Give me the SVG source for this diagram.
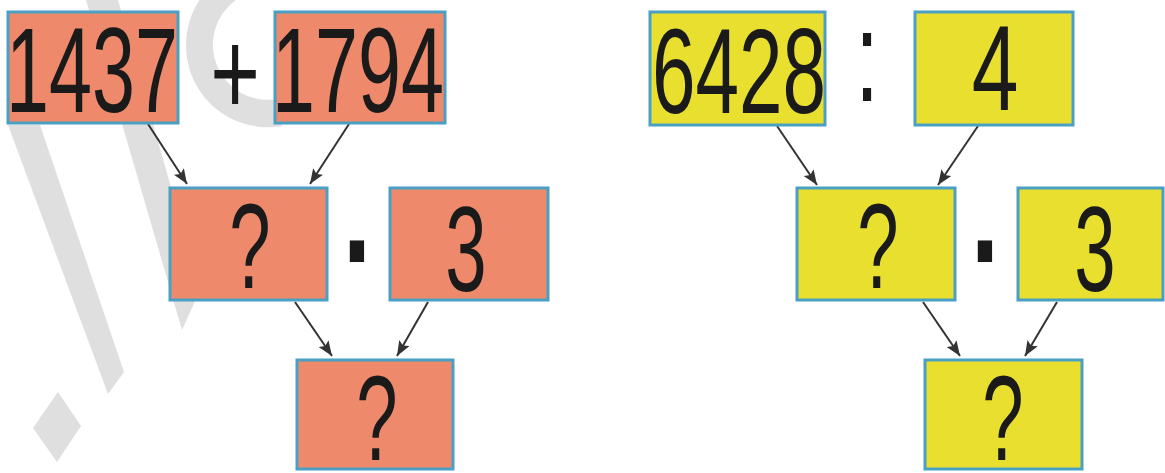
<svg xmlns="http://www.w3.org/2000/svg" width="1165" height="473" viewBox="0 0 1165 473">
  <style>
    .box { stroke: #4a9fc4; stroke-width: 3; }
    .salmon { fill: #ee8a6b; }
    .yellow { fill: #e9df2e; }
    .num { font-family: "Liberation Sans", Arial, sans-serif; font-size: 120px; fill: #1a1a1a; }
    .op { font-family: "Liberation Sans", Arial, sans-serif; fill: #1a1a1a; }
    .wm { fill: #dfdfdf; }
    .conn { stroke: #333333; stroke-width: 2; fill: none; marker-end: url(#arrow); }
  </style>
  <defs>
    <marker id="arrow" markerUnits="userSpaceOnUse" markerWidth="16" markerHeight="12" refX="15" refY="6" orient="auto">
      <path d="M0,0 L15,6 L0,12 L3,6 z" fill="#333333"/>
    </marker>
  </defs>
  <rect width="1165" height="473" fill="#ffffff"/>

  <g id="watermark">
    <polygon class="wm" points="8,125 40,125 124,372 108,394"/>
    <polygon class="wm" points="86,0 118,0 200,290 182,330"/>
    <polygon class="wm" points="58,392 81,426 57,462 33,428"/>
    <path d="M199.5,0 A82,82 0 0 0 282,126 L277.5,99 A55,55 0 0 1 236,0 Z" class="wm"/>
  </g>

  <g id="connectors">
    <path class="conn" d="M148,124 L187,184"/>
    <path class="conn" d="M349,124 L310,184"/>
    <path class="conn" d="M295,302 L332,356"/>
    <path class="conn" d="M428,302 L397,356"/>
    <path class="conn" d="M777,126 L817,185"/>
    <path class="conn" d="M978,126 L938,185"/>
    <path class="conn" d="M923,302 L960,356"/>
    <path class="conn" d="M1057,302 L1025,356"/>
  </g>

  <g id="n1437">
    <rect class="box salmon" x="8" y="12" width="170" height="111"/>
    <text class="num" transform="translate(6,112) scale(0.644,1)">1437</text>
  </g>
  <g id="plus">
    <text class="op" font-size="120" transform="translate(235,115) scale(0.71,1)" text-anchor="middle">+</text>
  </g>
  <g id="n1794">
    <rect class="box salmon" x="275" y="12" width="170" height="111"/>
    <text class="num" transform="translate(272,112) scale(0.644,1)">1794</text>
  </g>
  <g id="nL3">
    <rect class="box salmon" x="170" y="188" width="157" height="112"/>
    <text class="num" transform="translate(250,288) scale(0.62,1)" text-anchor="middle">?</text>
  </g>
  <g id="dotL">
    <text class="op" font-size="200" transform="translate(357,306) scale(0.75,1)" text-anchor="middle">·</text>
  </g>
  <g id="nL4">
    <rect class="box salmon" x="390" y="188" width="158" height="112"/>
    <text class="num" transform="translate(466,291) scale(0.62,1)" text-anchor="middle">3</text>
  </g>
  <g id="nL5">
    <rect class="box salmon" x="297" y="360" width="156" height="109"/>
    <text class="num" transform="translate(377,460) scale(0.62,1)" text-anchor="middle">?</text>
  </g>

  <g id="n6428">
    <rect class="box yellow" x="650" y="12" width="175" height="113"/>
    <text class="num" transform="translate(652,113) scale(0.652,1)">6428</text>
  </g>
  <g id="colon">
    <text class="op" font-size="170" transform="translate(867,101) scale(0.5,0.75)" text-anchor="middle">:</text>
  </g>
  <g id="n4">
    <rect class="box yellow" x="915" y="12" width="158" height="113"/>
    <text class="num" transform="translate(995,110) scale(0.7,1)" text-anchor="middle">4</text>
  </g>
  <g id="nR3">
    <rect class="box yellow" x="797" y="188" width="158" height="112"/>
    <text class="num" transform="translate(878,288) scale(0.62,1)" text-anchor="middle">?</text>
  </g>
  <g id="dotR">
    <text class="op" font-size="200" transform="translate(985,306) scale(0.75,1)" text-anchor="middle">·</text>
  </g>
  <g id="nR4">
    <rect class="box yellow" x="1018" y="188" width="145" height="112"/>
    <text class="num" transform="translate(1095,291) scale(0.62,1)" text-anchor="middle">3</text>
  </g>
  <g id="nR5">
    <rect class="box yellow" x="925" y="360" width="157" height="109"/>
    <text class="num" transform="translate(1003,460) scale(0.62,1)" text-anchor="middle">?</text>
  </g>
</svg>
